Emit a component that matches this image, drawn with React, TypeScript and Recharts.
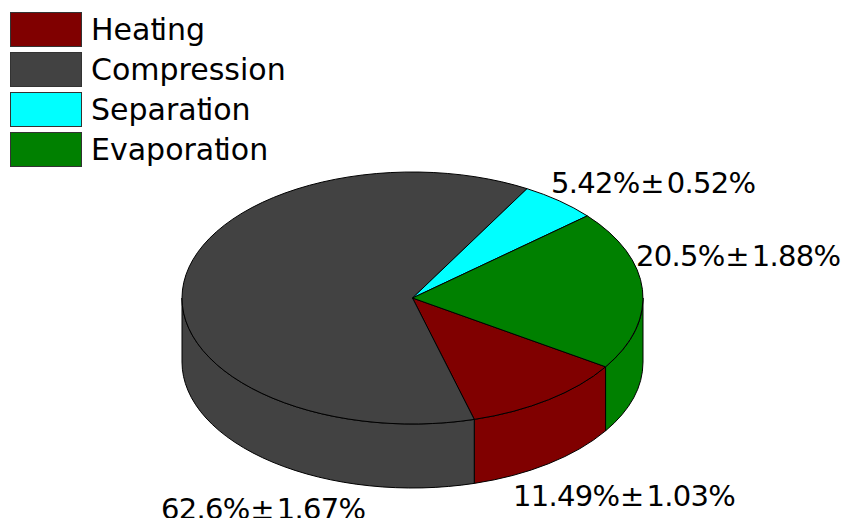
import { Legend, Pie, PieChart } from "recharts";

// Shares of the total energy use, in percent
const categories = ["Heating", "Compression", "Separation", "Evaporation"];
const shares = [11.49, 62.6, 5.42, 20.5];
const errors = [1.03, 1.67, 0.52, 1.88];
const colors = ["#800000", "#424242", "#00ffff", "#008000"];

const chartData = categories.map((name, i) => ({
    name,
    value: shares[i],
    error: errors[i],
    fill: colors[i],
}));

const FONT = "'DejaVu Sans', sans-serif";
const CX = 412.5;
const CY = 298;
const RX = 230.5;
const RY = 126;
const DEPTH = 64;
const FIRST_ANGLE = -33.1;

// where each value label starts (x, baseline)
const labelSpots = [
    [513, 506],
    [161, 519],
    [551, 193],
    [636, 266],
];

const px = (deg: number) => CX + RX * Math.cos((deg * Math.PI) / 180);
const py = (deg: number) => CY - RY * Math.sin((deg * Math.PI) / 180);

// top face: a sector squashed into an ellipse
function TopSector(props: any) {
    const { startAngle, endAngle, fill } = props;
    const large = Math.abs(startAngle - endAngle) > 180 ? 1 : 0;
    const d = `M${CX},${CY} L${px(startAngle)},${py(startAngle)} A${RX},${RY} 0 ${large} 1 ${px(endAngle)},${py(endAngle)} Z`;
    return <path d={d} fill={fill} stroke="#000" strokeWidth={1} />;
}

// side wall: only the part of the rim that faces the viewer
function WallSector(props: any) {
    const { startAngle, endAngle, fill } = props;
    const front = [
        [0, -180],
        [-360, -540],
    ];
    return (
        <g>
            {front.map(([hi, lo]) => {
                const a = Math.min(startAngle, hi);
                const b = Math.max(endAngle, lo);
                if (a <= b) return null;
                const d = `M${px(a)},${py(a)} A${RX},${RY} 0 0 1 ${px(b)},${py(b)} L${px(b)},${py(b) + DEPTH} A${RX},${RY} 0 0 0 ${px(a)},${py(a) + DEPTH} Z`;
                return <path key={hi} d={d} fill={fill} stroke="#000" strokeWidth={1} />;
            })}
        </g>
    );
}

function ValueLabel(props: any) {
    const { index } = props;
    const [x, y] = labelSpots[index];
    return (
        <text x={x} y={y} fontFamily={FONT} fontSize={29} letterSpacing={-0.7} fill="#000" textAnchor="start">
            <tspan>{`${shares[index]}%`}</tspan>
            <tspan dx={0.5}>±</tspan>
            <tspan dx={3}>{`${errors[index]}%`}</tspan>
        </text>
    );
}

// the reference sets "ti" very tight, so pull those two letters together
function tightName(name: string) {
    const cut = name.indexOf("ti");
    if (cut < 0) return name;
    return (
        <>
            {name.slice(0, cut)}
            <span style={{ letterSpacing: -3.5 }}>t</span>
            {name.slice(cut + 1)}
        </>
    );
}

function LegendBox({ payload }: any) {
    // both pies report to the legend, keep one entry per category
    const items = categories.map((name) => (payload || []).find((e: any) => e.value === name)).filter(Boolean);
    return (
        <div style={{ fontFamily: FONT, fontSize: 30, color: "#000" }}>
            {items.map((entry: any) => (
                <div key={entry.value} style={{ position: "relative", height: 40, lineHeight: "36px" }}>
                    <span
                        style={{
                            position: "absolute",
                            left: 10,
                            top: 12,
                            width: 70,
                            height: 33,
                            background: entry.color,
                            border: "1px solid #333",
                        }}
                    />
                    <span style={{ position: "absolute", left: 91, top: 12, whiteSpace: "nowrap" }}>
                        {tightName(entry.value)}
                    </span>
                </div>
            ))}
        </div>
    );
}

export default function App() {
    return (
        <div style={{ position: "fixed", left: 0, top: 0, width: 843, height: 518, overflow: "hidden", background: "#fff" }}>
            <PieChart width={843} height={518} margin={{ top: 0, right: 0, bottom: 0, left: 0 }}>
                <Legend
                    layout="vertical"
                    align="left"
                    verticalAlign="top"
                    wrapperStyle={{ left: 0, top: 0, width: 320 }}
                    content={<LegendBox />}
                />
                <Pie
                    data={chartData}
                    dataKey="value"
                    nameKey="name"
                    cx={CX}
                    cy={CY}
                    outerRadius={RX}
                    startAngle={FIRST_ANGLE}
                    endAngle={FIRST_ANGLE - 360}
                    legendType="none"
                    shape={WallSector}
                    label={false}
                    labelLine={false}
                    isAnimationActive={false}
                />
                <Pie
                    data={chartData}
                    dataKey="value"
                    nameKey="name"
                    cx={CX}
                    cy={CY}
                    outerRadius={RX}
                    startAngle={FIRST_ANGLE}
                    endAngle={FIRST_ANGLE - 360}
                    shape={TopSector}
                    label={ValueLabel}
                    labelLine={false}
                    isAnimationActive={false}
                />
            </PieChart>
        </div>
    );
}
